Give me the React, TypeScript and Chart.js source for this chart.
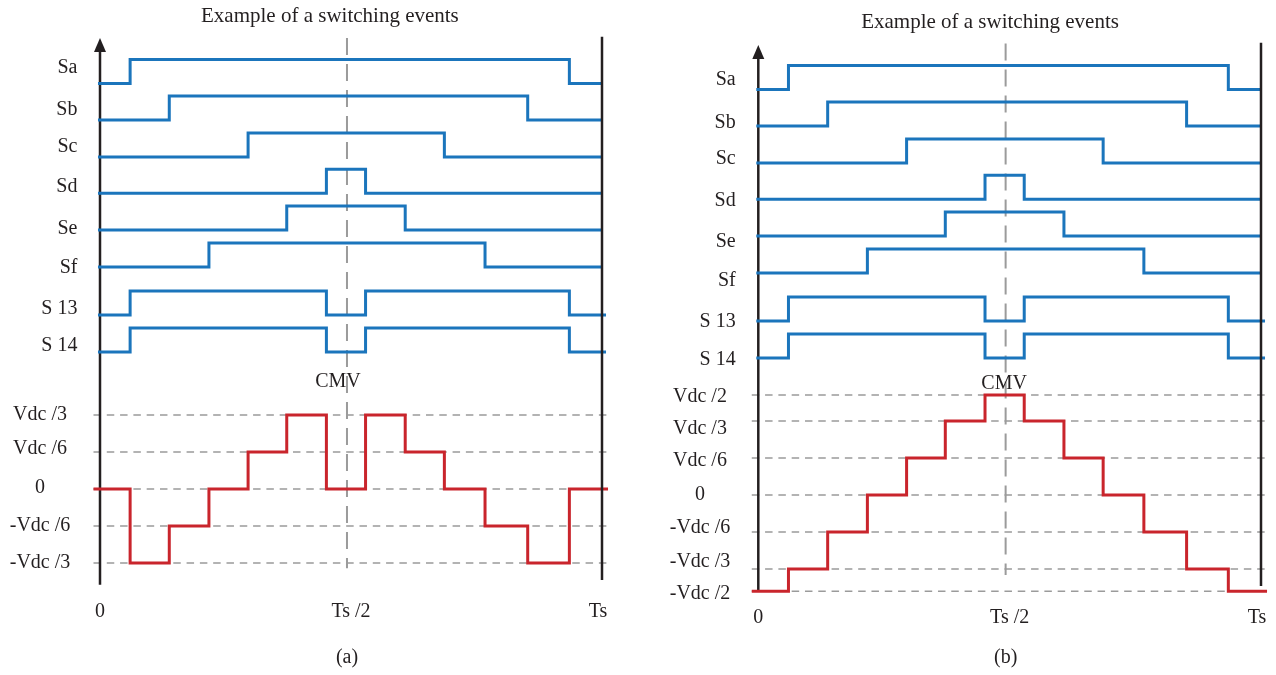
import React, { useEffect, useRef } from "react";
import { Chart, registerables } from "chart.js";

Chart.register(...registerables);

// ---------------- DATA ----------------
const chartTitle = "Example of a switching events";
const panelCaptions = ["(a)", "(b)"];
const signalNames = ["Sa", "Sb", "Sc", "Sd", "Se", "Sf", "S 13", "S 14"];
// switching instants (fraction of Ts); each signal starts low and toggles at every instant
const saEdges = [0.06, 0.935];
const sbEdges = [0.138, 0.852];
const scEdges = [0.295, 0.686];
const sdEdges = [0.451, 0.529];
const seEdges = [0.372, 0.608];
const sfEdges = [0.217, 0.767];
const s13Edges = [0.06, 0.451, 0.529, 0.935];
const s14Edges = [0.06, 0.451, 0.529, 0.935];
// CMV change instants (fraction of Ts)
const cmvEdgeTimes = [0.06, 0.138, 0.217, 0.295, 0.372, 0.451, 0.529, 0.608, 0.686, 0.767, 0.852, 0.935];
// CMV levels in units of Vdc/6: initial level, then level after each instant
const cmvLevelsA = [0, -2, -1, 0, 1, 2, 0, 2, 1, 0, -1, -2, 0];
const cmvLevelsB = [-3, -2, -1, 0, 1, 2, 3, 2, 1, 0, -1, -2, -3];
const levelLabelsA = ["Vdc /3", "Vdc /6", "0", "-Vdc /6", "-Vdc /3"];
const levelValuesA = [2, 1, 0, -1, -2];
const levelLabelsB = ["Vdc /2", "Vdc /3", "Vdc /6", "0", "-Vdc /6", "-Vdc /3", "-Vdc /2"];
const levelValuesB = [3, 2, 1, 0, -1, -2, -3];
const timeTickLabels = ["0", "Ts /2", "Ts"];
const timeTickValues = [0, 0.5, 0.992];
const halfPeriodMarker = 0.492;
const cmvLabel = "CMV";

const signalEdges = [saEdges, sbEdges, scEdges, sdEdges, seEdges, sfEdges, s13Edges, s14Edges];

// ---------------- LAYOUT / STYLE ----------------
const W = 638;
const H = 675;
const BLUE = "#1b75bc";
const RED = "#c9252c";
const GRAY = "#9b9b9b";
const BLACK = "#231f20";
const FONT = '"Liberation Serif", "DejaVu Serif", serif';

const rowBase = [10.96, 9.97, 8.97, 7.99, 7.0, 6.0, 4.7, 3.7];
const rowAmp = 0.65;

type Panel = {
  left: number;
  originPx: number;
  spanPx: number;
  zeroPx: number;
  stepPx: number;
  cmv: number[];
  levelLabels: string[];
  levelValues: number[];
  levelLabelY: number[];
  rowLabelY: number[];
  levelPos: (v: number) => number;
  captionY: number;
  titleX: number;
  cmvLabelX: number;
  cmvLabelY: number;
  leftAxis: [number, number];
  rightAxis: [number, number];
  marker: [number, number];
  levelLabelX: number;
  caption: string;
};

const panels: Panel[] = [
  {
    left: 0,
    originPx: 100,
    spanPx: 502,
    zeroPx: 489,
    stepPx: 37,
    cmv: cmvLevelsA,
    levelLabels: levelLabelsA,
    levelValues: levelValuesA,
    levelLabelY: [2.0, 1.09, 0.03, -1.0, -2.0],
    rowLabelY: [11.38, 10.24, 9.24, 8.16, 7.03, 5.97, 4.86, 3.86],
    levelPos: (v) => v,
    captionY: -4.57,
    titleX: 0.458,
    cmvLabelX: 0.474,
    cmvLabelY: 2.89,
    leftAxis: [-2.59, 12.19],
    rightAxis: [-2.46, 12.22],
    marker: [-2.14, 12.19],
    levelLabelX: -0.1195,
    caption: panelCaptions[0],
  },
  {
    left: 638,
    originPx: 120.3,
    spanPx: 502.7,
    zeroPx: 495,
    stepPx: 37,
    cmv: cmvLevelsB,
    levelLabels: levelLabelsB,
    levelValues: levelValuesB,
    levelLabelY: [2.66, 1.78, 0.93, 0, -0.89, -1.8, -2.68],
    rowLabelY: [11.22, 10.05, 9.08, 7.95, 6.84, 5.78, 4.68, 3.65],
    levelPos: (v) => (v === 3 ? 2.7 : v === -3 ? -2.6 : v),
    captionY: -4.41,
    titleX: 0.461,
    cmvLabelX: 0.489,
    cmvLabelY: 3.0,
    leftAxis: [-2.59, 12.16],
    rightAxis: [-2.46, 12.22],
    marker: [-2.16, 12.2],
    levelLabelX: -0.116,
    caption: panelCaptions[1],
  },
];

const traceStart = -0.013;
const traceEnd = 1.012;
const digitalStart = -0.004;

function buildChart(canvas: HTMLCanvasElement, p: Panel) {
  const xMin = -p.originPx / p.spanPx;
  const xMax = (W - p.originPx) / p.spanPx;
  const yMax = p.zeroPx / p.stepPx;
  const yMin = (p.zeroPx - H) / p.stepPx;

  const datasets: any[] = [];
  const lineBase = {
    pointRadius: 0,
    fill: false,
    tension: 0,
    clip: false,
    borderCapStyle: "butt",
    borderJoinStyle: "miter",
  };

  // dashed level lines
  p.levelValues.forEach((v) => {
    datasets.push({
      ...lineBase,
      data: [
        { x: traceStart, y: p.levelPos(v) },
        { x: traceEnd, y: p.levelPos(v) },
      ],
      borderColor: GRAY,
      borderWidth: 1.5,
      borderDash: [7.5, 5.8],
      order: 6,
    });
  });
  // half period marker
  datasets.push({
    ...lineBase,
    data: [
      { x: halfPeriodMarker, y: p.marker[1] },
      { x: halfPeriodMarker, y: p.marker[0] },
    ],
    borderColor: GRAY,
    borderWidth: 2,
    borderDash: [17, 9],
    order: 5,
  });
  // left axis
  datasets.push({
    ...lineBase,
    data: [
      { x: 0, y: p.leftAxis[0] },
      { x: 0, y: p.leftAxis[1] - 0.3 },
    ],
    borderColor: BLACK,
    borderWidth: 2.5,
    order: 4,
  });
  // switching signals
  signalEdges.forEach((edges, i) => {
    const base = rowBase[i];
    const pts: { x: number; y: number }[] = [{ x: digitalStart, y: base }];
    edges.forEach((t, k) => pts.push({ x: t, y: k % 2 === 0 ? base + rowAmp : base }));
    pts.push({ x: i >= 6 ? 1.008 : 1, y: base });
    datasets.push({
      ...lineBase,
      data: pts,
      stepped: "before",
      borderColor: BLUE,
      borderWidth: 3,
      order: 3,
    });
  });
  // CMV
  const cpts: { x: number; y: number }[] = [{ x: traceStart, y: p.levelPos(p.cmv[0]) }];
  cmvEdgeTimes.forEach((t, k) => cpts.push({ x: t, y: p.levelPos(p.cmv[k + 1]) }));
  cpts.push({ x: traceEnd, y: p.levelPos(p.cmv[p.cmv.length - 1]) });
  datasets.push({
    ...lineBase,
    data: cpts,
    stepped: "before",
    borderColor: RED,
    borderWidth: 3,
    order: 2,
  });
  // right boundary
  datasets.push({
    ...lineBase,
    data: [
      { x: 1, y: p.rightAxis[0] },
      { x: 1, y: p.rightAxis[1] },
    ],
    borderColor: BLACK,
    borderWidth: 2.5,
    order: 1,
  });

  const textPlugin = {
    id: "panelText",
    afterDatasetsDraw(chart: any) {
      const ctx = chart.ctx as CanvasRenderingContext2D;
      const xs = chart.scales.x;
      const ys = chart.scales.y;
      const X = (v: number) => xs.getPixelForValue(v);
      const Y = (v: number) => ys.getPixelForValue(v);
      ctx.save();
      // arrow head
      const ax = X(0);
      const tip = Y(p.leftAxis[1]);
      ctx.fillStyle = BLACK;
      ctx.beginPath();
      ctx.moveTo(ax, tip);
      ctx.lineTo(ax - 6, tip + 14);
      ctx.lineTo(ax + 6, tip + 14);
      ctx.closePath();
      ctx.fill();

      ctx.fillStyle = BLACK;
      ctx.textBaseline = "middle";
      // title
      ctx.font = `21px ${FONT}`;
      ctx.textAlign = "center";
      ctx.fillText(chartTitle, X(p.titleX), Y(12.78));
      ctx.font = `20px ${FONT}`;
      // signal names
      ctx.textAlign = "right";
      signalNames.forEach((n, i) => ctx.fillText(n, X(-0.045), Y(p.rowLabelY[i])));
      // level labels
      ctx.textAlign = "center";
      p.levelLabels.forEach((l, i) => ctx.fillText(l, X(p.levelLabelX), Y(p.levelLabelY[i])));
      // time ticks
      timeTickLabels.forEach((l, i) => ctx.fillText(l, X(timeTickValues[i]), Y(-3.32)));
      // CMV
      ctx.fillText(cmvLabel, X(p.cmvLabelX), Y(p.cmvLabelY));
      // caption
      ctx.fillText(p.caption, X(halfPeriodMarker), Y(p.captionY));
      ctx.restore();
    },
  };

  return new Chart(canvas, {
    type: "line",
    data: { datasets },
    options: {
      animation: false,
      responsive: false,
      maintainAspectRatio: false,
      devicePixelRatio: 1,
      events: [],
      layout: { padding: 0 },
      plugins: {
        legend: { display: false },
        tooltip: { enabled: false },
        title: { display: false },
      },
      scales: {
        x: { type: "linear", min: xMin, max: xMax, display: false, bounds: "data" },
        y: { type: "linear", min: yMin, max: yMax, display: false, bounds: "data" },
      },
    } as any,
    plugins: [textPlugin],
  });
}

export default function App() {
  const refA = useRef<HTMLCanvasElement>(null);
  const refB = useRef<HTMLCanvasElement>(null);
  useEffect(() => {
    const charts: Chart[] = [];
    if (refA.current) charts.push(buildChart(refA.current, panels[0]));
    if (refB.current) charts.push(buildChart(refB.current, panels[1]));
    return () => charts.forEach((c) => c.destroy());
  }, []);
  return (
    <div style={{ position: "absolute", left: 0, top: 0, width: 1276, height: 675, background: "#fff" }}>
      <canvas
        ref={refA}
        width={W}
        height={H}
        style={{ position: "absolute", left: 0, top: 0, width: W, height: H }}
      />
      <canvas
        ref={refB}
        width={W}
        height={H}
        style={{ position: "absolute", left: 638, top: 0, width: W, height: H }}
      />
    </div>
  );
}
